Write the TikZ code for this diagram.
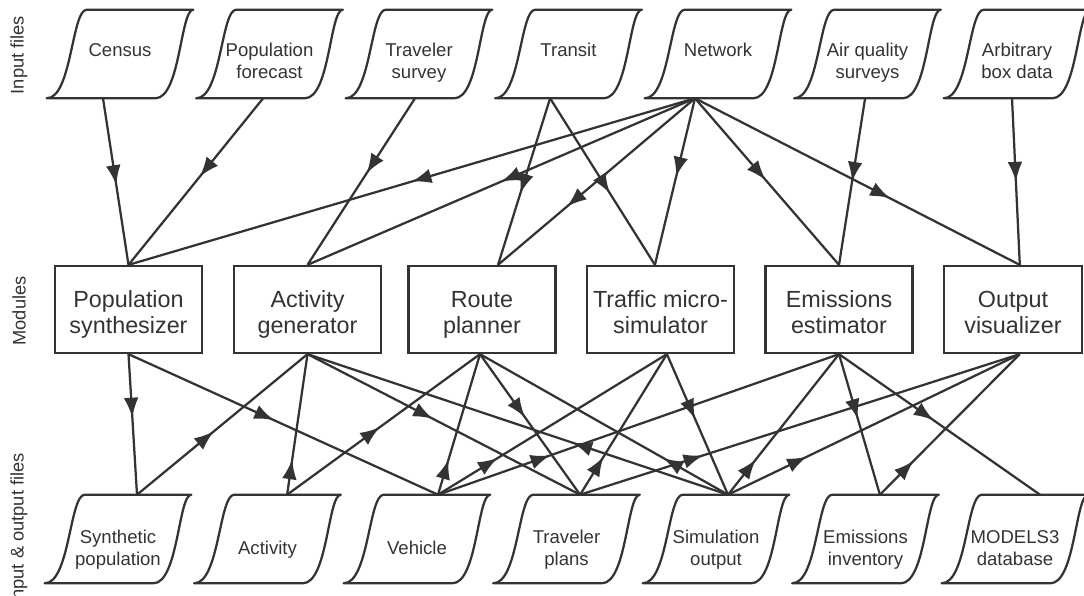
\documentclass[tikz,border=0pt]{standalone}
\usepackage{fontspec}
\setmainfont{Liberation Sans}
\usetikzlibrary{positioning,arrows.meta,calc,decorations.markings}
\definecolor{ink}{HTML}{333333}

\tikzset{
  module/.style={draw=ink, line width=1.6pt, minimum width=3.675cm, minimum height=2.175cm,
    inner sep=0pt, text=ink, font=\fontsize{16.6}{17.8}\selectfont,
    execute at begin node={\begin{minipage}[c][2.1cm][c]{3.45cm}\centering\vspace*{0.3cm}\strut},
    execute at end node={\strut\end{minipage}}},
  infile/.style={minimum width=3.65cm, minimum height=2.2cm, inner sep=0pt, text=ink,
    font=\fontsize{13.2}{15.6}\selectfont,
    execute at begin node={\begin{minipage}[c][2.2cm][t]{3.2cm}\centering\vspace*{0.79cm}\strut},
    execute at end node={\end{minipage}}},
  outfile/.style={minimum width=3.65cm, minimum height=2.2cm, inner sep=0pt, text=ink,
    font=\fontsize{13.2}{15}\selectfont,
    execute at begin node={\begin{minipage}[c][2.2cm][c]{3.2cm}\centering\vspace*{0.565cm}\strut},
    execute at end node={\strut\end{minipage}}},
  fileline/.style={draw=ink, line width=1.6pt, line join=round},
  flow/.style={draw=ink, line width=1.6pt, postaction={decorate},
    decoration={markings, mark=at position #1 with {\arrow{Latex[length=14pt,width=10.5pt]}}}},
  flow/.default=0.5,
  sidelab/.style={rotate=90, text=ink, font=\fontsize{13}{15}\selectfont}
}

\begin{document}
\begin{tikzpicture}[x=0.025cm, y=-0.025cm]
  \useasboundingbox (0,0) rectangle (1084,596);

  % row labels
  \node[sidelab] (lblin) at (19,55) {Input files};
  \node[sidelab] (lblmod) at (19,311) {Modules};
  \node[sidelab] (lblio) at (19,529) {Input \& output files};

  % input files (top row)
  \foreach \n/\x/\t in {census/120/Census, popfc/269.5/{Population\\forecast},
      travsv/419/{Traveler\\survey}, transit/568.5/Transit, network/718/Network,
      airq/867.5/{Air quality\\surveys}, arbbox/1017/{Arbitrary\\box data}} {
    \node[infile] (\n) at (\x,54) {\t};
  }
  % modules
  \foreach \n/\x/\t in {popsyn/128.5/{Population\\synthesizer}, actgen/307.5/{Activity\\generator},
      route/482/{Route\\planner}, traffic/660.5/{Traffic micro-\\simulator},
      emis/839/{Emissions\\estimator}} {
    \node[module] (\n) at (\x,309.5) {\t};
  }
  \node[module, minimum width=3.4cm] (outvis) at (1013,309.5) {Output\\visualizer};
  % input & output files (bottom row)
  \foreach \n/\x/\t in {synpop/118/{Synthetic\\population}, activ/267.5/Activity,
      vehicle/417/Vehicle, plans/566.5/{Traveler\\plans}, simout/716/{Simulation\\output},
      emisinv/865.5/{Emissions\\inventory}, models/1015/{MODELS3\\database}} {
    \node[outfile] (\n) at (\x,539) {\t};
  }

  % file outlines
  \foreach \f in {census,popfc,travsv,transit,network,airq,arbbox,
      synpop,activ,vehicle,plans,simout,emisinv,models} {
    \draw[fileline] ($(\f.north west)+(40,0)$) -- (\f.north east)
      .. controls +(-13,0) and +(25,0) .. ($(\f.south east)+(-38,0)$)
      -- (\f.south west)
      .. controls +(25,0) and +(-15,0) .. ($(\f.north west)+(40,0)$) -- cycle;
  }
  % where the connectors meet the shapes
  \foreach \f/\s in {census/-0.425, popfc/-0.16, travsv/-0.1, transit/-0.46,
      network/-0.575, airq/-0.06, arbbox/-0.125}
    \coordinate (\f-bot) at ([xshift=\s cm]\f.south);
  \foreach \f/\s in {synpop/0.475, activ/0.49, vehicle/0.525, plans/0.34,
      simout/0.3, emisinv/0.36, models/0.625}
    \coordinate (\f-top) at ([xshift=\s cm]\f.north);
  \foreach \m/\a/\b in {popsyn/0/0, actgen/0/0, route/0.4/-0.05, traffic/-0.14/0.16,
      emis/0/0, outvis/0.17/0.17} {
    \coordinate (\m-top) at ([xshift=\a cm]\m.north);
    \coordinate (\m-bot) at ([xshift=\b cm]\m.south);
  }

  % inputs -> modules
  \foreach \f/\m/\p in {census/popsyn/0.52, popfc/popsyn/0.47, travsv/actgen/0.45,
      network/popsyn/0.5, network/actgen/0.5, transit/route/0.57, network/route/0.65,
      transit/traffic/0.57, network/traffic/0.47, network/emis/0.49, network/outvis/0.6,
      airq/emis/0.5, arbbox/outvis/0.5}
    \draw[flow=\p] (\f-bot) -- (\m-top);

  % modules -> files
  \foreach \m/\f/\p in {popsyn/synpop/0.45, popsyn/vehicle/0.47, actgen/plans/0.46,
      route/plans/0.45, traffic/simout/0.46, emis/emisinv/0.46, emis/models/0.47}
    \draw[flow=\p] (\m-bot) -- (\f-top);

  % files -> modules
  \foreach \f/\m/\p in {synpop/actgen/0.45, activ/actgen/0.25, simout/actgen/0.37,
      activ/route/0.48, vehicle/route/0.25, simout/route/0.26, vehicle/traffic/0.26,
      plans/traffic/0.27, vehicle/emis/0.28, simout/emis/0.25, plans/outvis/0.28,
      simout/outvis/0.27, emisinv/outvis/0.24}
    \draw[flow=\p] (\f-top) -- (\m-bot);
\end{tikzpicture}
\end{document}
